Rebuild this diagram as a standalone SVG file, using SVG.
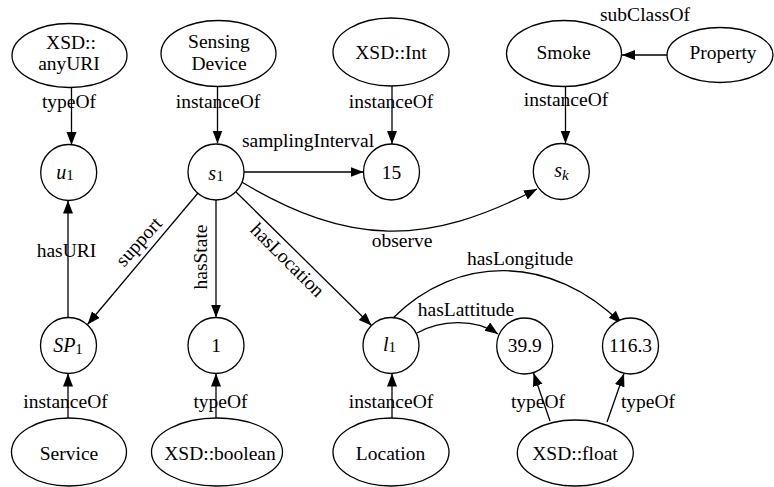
<svg xmlns="http://www.w3.org/2000/svg" width="774" height="487" viewBox="0 0 774 487">
  <style>
    .n { fill: #fff; stroke: #000; stroke-width: 1.3; }
    .e { fill: none; stroke: #000; stroke-width: 1.3; marker-end: url(#arrow); }
    text { font-size: 19.5px; fill: #000; text-anchor: middle; }
    .it { font-style: italic; font-size: 20px; }
    .sub { font-size: 15px; }
  </style>
  <defs>
    <marker id="arrow" markerUnits="userSpaceOnUse" markerWidth="14" markerHeight="11" refX="13" refY="5" orient="auto">
      <path d="M0,0 L13,5 L0,10 Z" fill="#000"/>
    </marker>
  </defs>
  <rect width="774" height="487" fill="#fff"/>

  <!-- connectors -->
  <g id="edges">
    <line class="e" x1="71.5" y1="87.5" x2="71.5" y2="145"/>
    <line class="e" x1="217.5" y1="86.5" x2="217.5" y2="143.5"/>
    <line class="e" x1="392" y1="86" x2="392" y2="144"/>
    <line class="e" x1="565.5" y1="86.5" x2="565.5" y2="143.5"/>
    <line class="e" x1="667" y1="55" x2="622" y2="55"/>
    <line class="e" x1="244" y1="172" x2="363.5" y2="172"/>
    <path class="e" d="M240,181 C350,247 427,246 537,189"/>
    <line class="e" x1="198" y1="193" x2="87.5" y2="324.5"/>
    <line class="e" x1="216" y1="200" x2="216" y2="317.5"/>
    <line class="e" x1="236" y1="192" x2="371.5" y2="325.5"/>
    <line class="e" x1="68" y1="317.5" x2="68" y2="200.5"/>
    <line class="e" x1="68" y1="418" x2="68" y2="373.5"/>
    <line class="e" x1="216" y1="418" x2="216" y2="373.5"/>
    <line class="e" x1="392" y1="418" x2="392" y2="373.5"/>
    <path class="e" d="M417,333 C440,320 475,318 498,334"/>
    <path class="e" d="M393,318 C457,254 552,254 621.5,323.5"/>
    <line class="e" x1="550" y1="421" x2="533.5" y2="373"/>
    <line class="e" x1="607" y1="422" x2="624" y2="373.5"/>
  </g>

  <g font-family="Liberation Serif, Times New Roman, DejaVu Serif, serif">
  <!-- connector labels -->
  <g id="edge-labels">
    <text x="69" y="107.5">typeOf</text>
    <text x="218" y="107.5">instanceOf</text>
    <text x="391" y="107.5">instanceOf</text>
    <text x="566" y="106">instanceOf</text>
    <text x="645" y="20.5">subClassOf</text>
    <text x="308" y="146.5">samplingInterval</text>
    <text x="402" y="247">observe</text>
    <text x="66.5" y="257">hasURI</text>
    <text transform="translate(143.5,246) rotate(-48)">support</text>
    <text transform="translate(206.5,257) rotate(-90)">hasState</text>
    <text transform="translate(283,264.5) rotate(45)">hasLocation</text>
    <text x="520" y="265">hasLongitude</text>
    <text x="466" y="316">hasLattitude</text>
    <text x="65.5" y="408">instanceOf</text>
    <text x="220.5" y="408">typeOf</text>
    <text x="391" y="408">instanceOf</text>
    <text x="538" y="408">typeOf</text>
    <text x="648" y="408">typeOf</text>
  </g>

  <!-- class nodes -->
  <g id="anyURI"><ellipse class="n" cx="69.5" cy="55.5" rx="57.5" ry="32"/><text x="71" y="48.5">XSD::</text><text x="69" y="69.5">anyURI</text></g>
  <g id="SensingDevice"><ellipse class="n" cx="218.5" cy="53.5" rx="57.5" ry="33"/><text x="219" y="47.5">Sensing</text><text x="219" y="69.5">Device</text></g>
  <g id="Int"><ellipse class="n" cx="391" cy="52" rx="58" ry="34"/><text x="391" y="58.5">XSD::Int</text></g>
  <g id="Smoke"><ellipse class="n" cx="564" cy="53.5" rx="57.5" ry="33"/><text x="563.5" y="58.5">Smoke</text></g>
  <g id="Property"><ellipse class="n" cx="720" cy="55" rx="53" ry="27.5"/><text x="723" y="58.5">Property</text></g>
  <g id="Service"><ellipse class="n" cx="69" cy="452" rx="57.5" ry="34"/><text x="69" y="460">Service</text></g>
  <g id="boolean"><ellipse class="n" cx="217" cy="452" rx="65.5" ry="34"/><text x="220" y="460">XSD::boolean</text></g>
  <g id="Location"><ellipse class="n" cx="391" cy="452" rx="58" ry="34"/><text x="390.5" y="460">Location</text></g>
  <g id="float"><ellipse class="n" cx="575.3" cy="453" rx="58" ry="33"/><text x="575" y="460">XSD::float</text></g>

  <!-- instance and value nodes -->
  <g id="u1"><circle class="n" cx="68.7" cy="172.5" r="28"/><text x="65" y="178.5"><tspan class="it">u</tspan><tspan class="sub" dy="1.5">1</tspan></text></g>
  <g id="s1"><circle class="n" cx="216" cy="172" r="28"/><text x="216" y="179.5"><tspan class="it">s</tspan><tspan class="sub" dy="1">1</tspan></text></g>
  <g id="n15"><circle class="n" cx="391.5" cy="172" r="28"/><text x="391.5" y="178.5">15</text></g>
  <g id="sk"><circle class="n" cx="561.3" cy="171.5" r="28"/><text x="561.5" y="177"><tspan class="it">s</tspan><tspan class="it sub" dy="2.5">k</tspan></text></g>
  <g id="SP1"><circle class="n" cx="68.5" cy="345.5" r="28"/><text x="68" y="352"><tspan class="it">SP</tspan><tspan class="sub" dy="1.5">1</tspan></text></g>
  <g id="state1"><circle class="n" cx="216" cy="345.5" r="28"/><text x="216" y="351.5">1</text></g>
  <g id="l1"><circle class="n" cx="391" cy="345.5" r="28"/><text x="389.5" y="350.5"><tspan class="it">l</tspan><tspan class="sub" dy="1.5">1</tspan></text></g>
  <g id="lat"><circle class="n" cx="524.7" cy="346" r="28"/><text x="524.7" y="352">39.9</text></g>
  <g id="lon"><circle class="n" cx="630.5" cy="346" r="28"/><text x="630.5" y="352">116.3</text></g>
  </g>
</svg>
